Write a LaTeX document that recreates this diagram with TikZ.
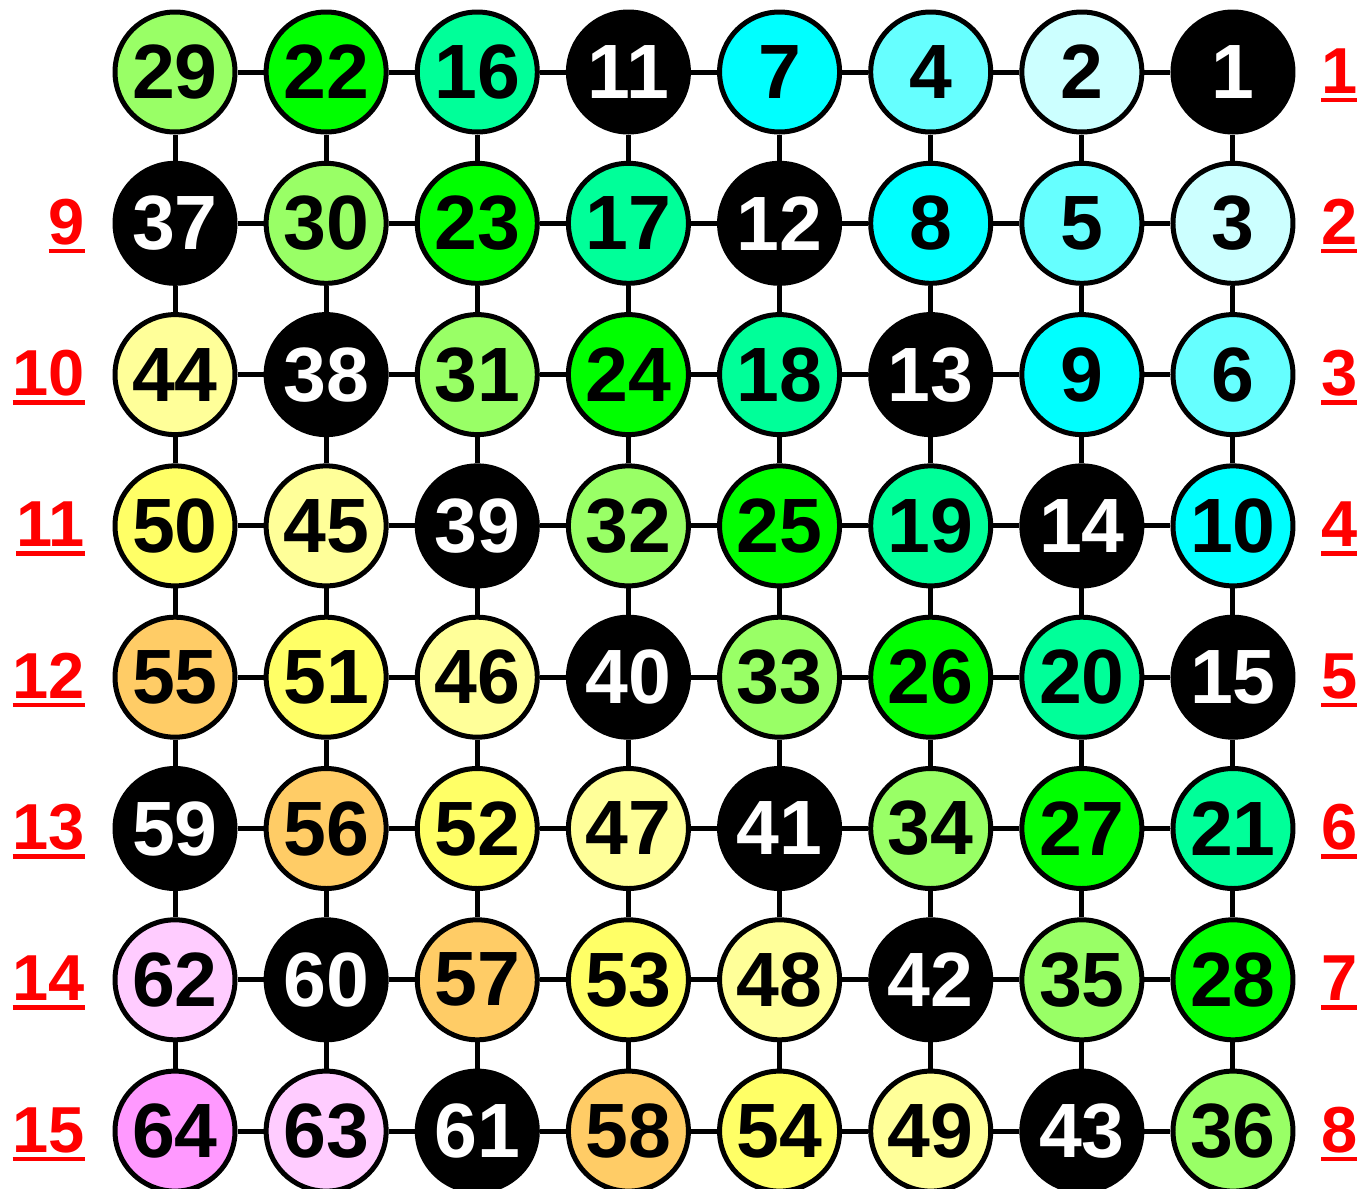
\documentclass[tikz,border=0pt]{standalone}
\usepackage{fontspec}
\setmainfont{Liberation Sans}
\definecolor{dg0}{HTML}{FF99FF}
\definecolor{dg1}{HTML}{FFCCFF}
\definecolor{dg2}{HTML}{000000}
\definecolor{dg3}{HTML}{FFCC66}
\definecolor{dg4}{HTML}{FFFF66}
\definecolor{dg5}{HTML}{FFFF99}
\definecolor{dg6}{HTML}{000000}
\definecolor{dg7}{HTML}{99FF66}
\definecolor{dg8}{HTML}{00FF00}
\definecolor{dg9}{HTML}{00FF99}
\definecolor{dg10}{HTML}{000000}
\definecolor{dg11}{HTML}{00FFFF}
\definecolor{dg12}{HTML}{66FFFF}
\definecolor{dg13}{HTML}{CCFFFF}
\definecolor{dg14}{HTML}{000000}
\newcommand\ulred[1]{\setbox0\hbox{#1}\rlap{\rule[-9pt]{\wd0}{4.5pt}}\box0}
\begin{document}
\begin{tikzpicture}[x=1pt,y=-1pt,
  cell/.style={circle,draw=black,line width=5pt,minimum size=120pt,inner sep=0pt,
    font=\fontsize{77}{77}\selectfont\bfseries},
  link/.style={line width=5pt,draw=black},
  lab/.style={text=red,inner sep=0pt,font=\fontsize{65}{65}\selectfont\bfseries}]
\useasboundingbox (0,0) rectangle (1361,1189);
\foreach \rowlist [count=\r from 0] in {
  {29,22,16,11,7,4,2,1},
  {37,30,23,17,12,8,5,3},
  {44,38,31,24,18,13,9,6},
  {50,45,39,32,25,19,14,10},
  {55,51,46,40,33,26,20,15},
  {59,56,52,47,41,34,27,21},
  {62,60,57,53,48,42,35,28},
  {64,63,61,58,54,49,43,36}} {
  \foreach \v [count=\c from 0] in \rowlist {
    \pgfmathtruncatemacro{\d}{\c-\r+7}
    \pgfmathtruncatemacro{\blk}{(\d==2)||(\d==6)||(\d==10)||(\d==14)}
    \ifnum\blk=1
      \node[cell,fill=dg\d,text=white] (n-\r-\c) at ({175+151.14*\c},{72+151.3*\r}) {\v};
    \else
      \node[cell,fill=dg\d,text=black] (n-\r-\c) at ({175+151.14*\c},{72+151.3*\r}) {\v};
    \fi
  }
}
\foreach \r in {0,...,7} {
  \foreach \c in {0,...,6} {
    \pgfmathtruncatemacro{\cn}{\c+1}
    \draw[link] (n-\r-\c) -- (n-\r-\cn);
  }
}
\foreach \r in {0,...,6} {
  \pgfmathtruncatemacro{\rn}{\r+1}
  \foreach \c in {0,...,7} {
    \draw[link] (n-\r-\c) -- (n-\rn-\c);
  }
}
\foreach \r in {0,...,7} {
  \pgfmathtruncatemacro{\lbl}{\r+1}
  \node[lab,anchor=base west] (rl-\r) at (1321,{72+151.3*\r+21}) {\ulred{\lbl}};
}
\foreach \r in {1,...,7} {
  \pgfmathtruncatemacro{\lbl}{\r+8}
  \node[lab,anchor=base east] (ll-\r) at (85,{72+151.3*\r+21}) {\ulred{\lbl}};
}
\end{tikzpicture}
\end{document}
